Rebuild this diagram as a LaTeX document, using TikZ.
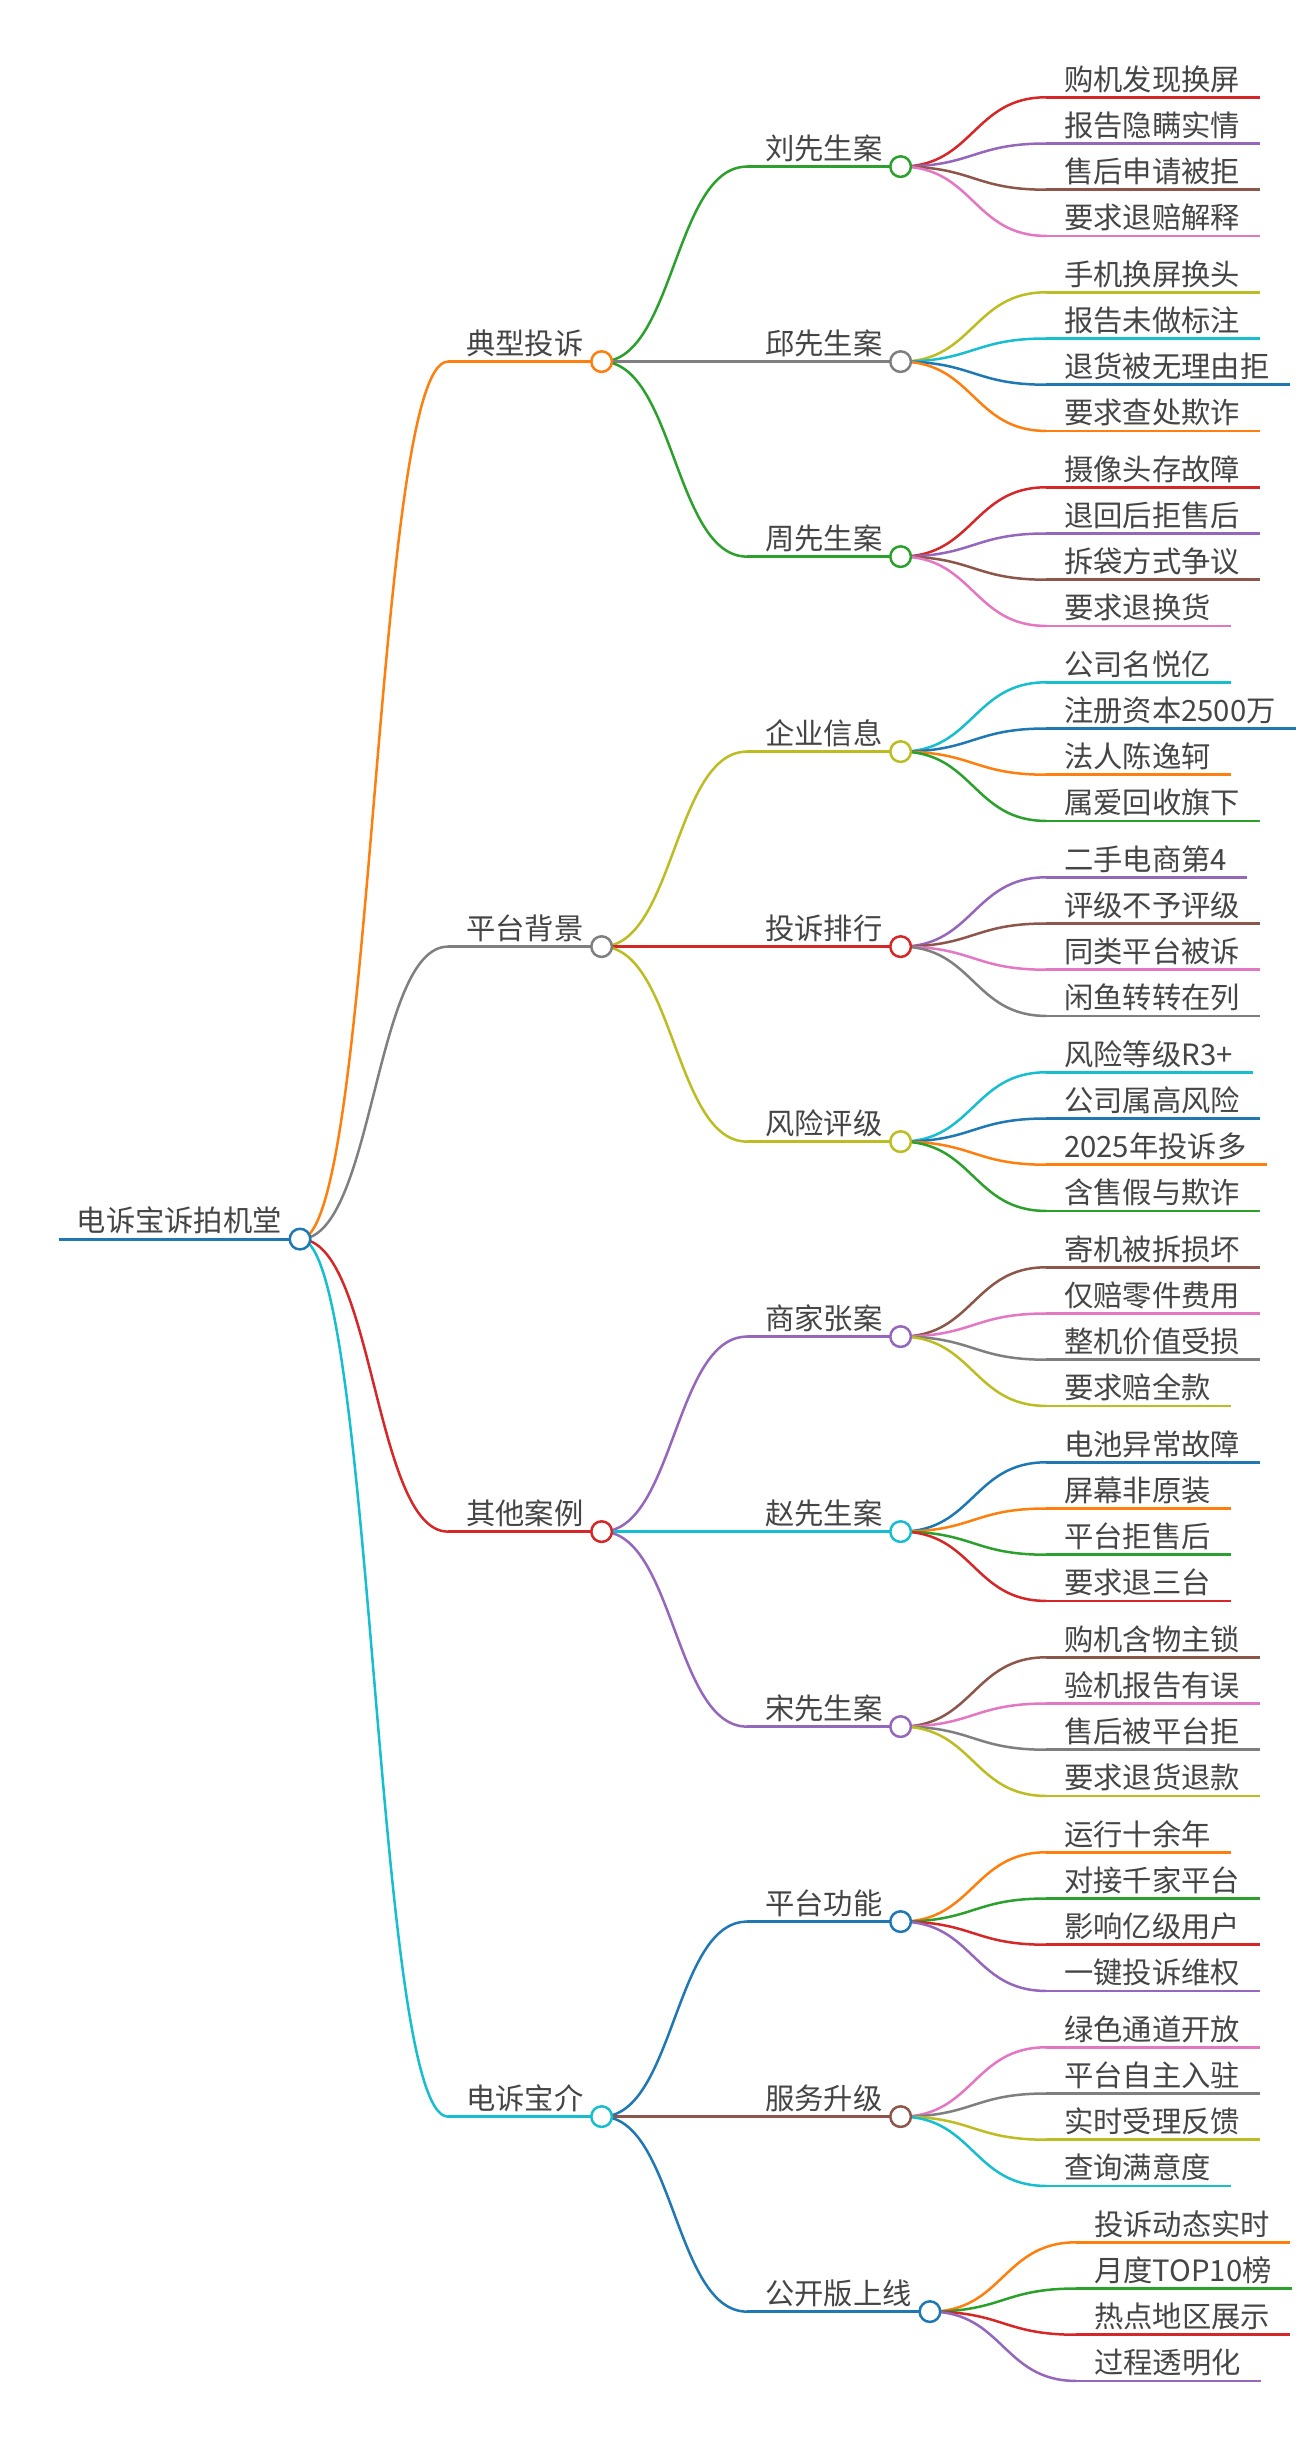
\documentclass[tikz,border=0pt]{standalone}
\usepackage{fontspec}
\setmainfont{Noto Sans CJK SC}
\usetikzlibrary{calc}
\definecolor{cblue}{HTML}{1F77B4}
\definecolor{corange}{HTML}{FF7F0E}
\definecolor{cgreen}{HTML}{2CA02C}
\definecolor{cred}{HTML}{D62728}
\definecolor{cpurple}{HTML}{9467BD}
\definecolor{cbrown}{HTML}{8C564B}
\definecolor{cpink}{HTML}{E377C2}
\definecolor{cgray}{HTML}{7F7F7F}
\definecolor{colive}{HTML}{BCBD22}
\definecolor{ccyan}{HTML}{17BECF}
\definecolor{tgray}{HTML}{454545}
\newcommand\mmfont{\fontsize{29.3pt}{35pt}\selectfont}
\tikzset{
  mm/.style={inner xsep=18pt, inner ysep=0pt, text depth=7pt, text height=24pt,
             anchor=south west, text=tgray, font=\mmfont},
  lk/.style={line width=2.5pt},
  dot/.style={line width=2.5pt},
}
\newcommand\lnk[3]{\draw[lk,color=#3] let \p1=(#1.south east), \p2=(#2.south west) in
  (\p1) .. controls ({(\x1+\x2)/2},\y1) and ({(\x1+\x2)/2},\y2) .. (\p2);}
\newcommand\uline[2]{\draw[lk,color=#2] (#1.south west) -- (#1.south east);}
\begin{document}
\begin{tikzpicture}[x=1pt,y=-1pt]
\fill[white] (0,0) rectangle (1310,2439);
\useasboundingbox (0,0) rectangle (1310,2439);

% root
\node[mm,anchor=south east] (R) at (300,1239.1) {电诉宝诉拍机堂};
\draw[lk,color=cblue,line width=3.2pt] (R.south west) -- (R.south east);

% level 1
\foreach \nm/\yy/\tx/\cl in {A/361.6/典型投诉/corange, B/946.6/平台背景/cgray,
    C/1531.6/其他案例/cred, D/2116.6/电诉宝介/ccyan}{
  \node[mm] (\nm) at (448,\yy) {\tx};
  \lnk{R}{\nm}{\cl}
  \uline{\nm}{\cl}
}

% level 2
\foreach \pa/\nm/\yy/\tx/\cl in {
    A/A1/166.6/刘先生案/cgreen, A/A2/361.6/邱先生案/cgray, A/A3/556.6/周先生案/cgreen,
    B/B1/751.6/企业信息/colive, B/B2/946.6/投诉排行/cred, B/B3/1141.6/风险评级/colive,
    C/C1/1336.6/商家张案/cpurple, C/C2/1531.6/赵先生案/ccyan, C/C3/1726.6/宋先生案/cpurple,
    D/D1/1921.6/平台功能/cblue, D/D2/2116.6/服务升级/cbrown, D/D3/2311.6/公开版上线/cblue}{
  \node[mm] (\nm) at (747,\yy) {\tx};
  \lnk{\pa}{\nm}{\cl}
  \uline{\nm}{\cl}
}

% leaves
\foreach \pa/\nm/\xx/\yy/\tx/\cl in {
    A1/A1a/1046/97.3/购机发现换屏/cred, A1/A1b/1046/143.5/报告隐瞒实情/cpurple,
    A1/A1c/1046/189.7/售后申请被拒/cbrown, A1/A1d/1046/235.9/要求退赔解释/cpink,
    A2/A2a/1046/292.3/手机换屏换头/colive, A2/A2b/1046/338.5/报告未做标注/ccyan,
    A2/A2c/1046/384.7/退货被无理由拒/cblue, A2/A2d/1046/430.9/要求查处欺诈/corange,
    A3/A3a/1046/487.3/摄像头存故障/cred, A3/A3b/1046/533.5/退回后拒售后/cpurple,
    A3/A3c/1046/579.7/拆袋方式争议/cbrown, A3/A3d/1046/625.9/要求退换货/cpink,
    B1/B1a/1046/682.3/公司名悦亿/ccyan, B1/B1b/1046/728.5/注册资本2500万/cblue,
    B1/B1c/1046/774.7/法人陈逸轲/corange, B1/B1d/1046/820.9/属爱回收旗下/cgreen,
    B2/B2a/1046/877.3/二手电商第4/cpurple, B2/B2b/1046/923.5/评级不予评级/cbrown,
    B2/B2c/1046/969.7/同类平台被诉/cpink, B2/B2d/1046/1015.9/闲鱼转转在列/cgray,
    B3/B3a/1046/1072.3/风险等级R3+/ccyan, B3/B3b/1046/1118.5/公司属高风险/cblue,
    B3/B3c/1046/1164.7/2025年投诉多/corange, B3/B3d/1046/1210.9/含售假与欺诈/cgreen,
    C1/C1a/1046/1267.3/寄机被拆损坏/cbrown, C1/C1b/1046/1313.5/仅赔零件费用/cpink,
    C1/C1c/1046/1359.7/整机价值受损/cgray, C1/C1d/1046/1405.9/要求赔全款/colive,
    C2/C2a/1046/1462.3/电池异常故障/cblue, C2/C2b/1046/1508.5/屏幕非原装/corange,
    C2/C2c/1046/1554.7/平台拒售后/cgreen, C2/C2d/1046/1600.9/要求退三台/cred,
    C3/C3a/1046/1657.3/购机含物主锁/cbrown, C3/C3b/1046/1703.5/验机报告有误/cpink,
    C3/C3c/1046/1749.7/售后被平台拒/cgray, C3/C3d/1046/1795.9/要求退货退款/colive,
    D1/D1a/1046/1852.3/运行十余年/corange, D1/D1b/1046/1898.5/对接千家平台/cgreen,
    D1/D1c/1046/1944.7/影响亿级用户/cred, D1/D1d/1046/1990.9/一键投诉维权/cpurple,
    D2/D2a/1046/2047.3/绿色通道开放/cpink, D2/D2b/1046/2093.5/平台自主入驻/cgray,
    D2/D2c/1046/2139.7/实时受理反馈/colive, D2/D2d/1046/2185.9/查询满意度/ccyan,
    D3/D3a/1076/2242.3/投诉动态实时/corange, D3/D3b/1076/2288.5/月度TOP10榜/cgreen,
    D3/D3c/1076/2334.7/热点地区展示/cred, D3/D3d/1076/2380.9/过程透明化/cpurple}{
  \node[mm] (\nm) at (\xx,\yy) {\tx};
  \lnk{\pa}{\nm}{\cl}
  \draw[lk,color=\cl] (\nm.south west) -- ([xshift=2pt]\nm.south east);
}

% circles on top
\foreach \nm/\cl in {R/cblue, A/corange, B/cgray, C/cred, D/ccyan,
    A1/cgreen, A2/cgray, A3/cgreen, B1/colive, B2/cred, B3/colive,
    C1/cpurple, C2/ccyan, C3/cpurple, D1/cblue, D2/cbrown, D3/cblue}{
  \draw[dot,draw=\cl,fill=white] (\nm.south east) circle[radius=10.3pt];
}
\end{tikzpicture}
\end{document}
